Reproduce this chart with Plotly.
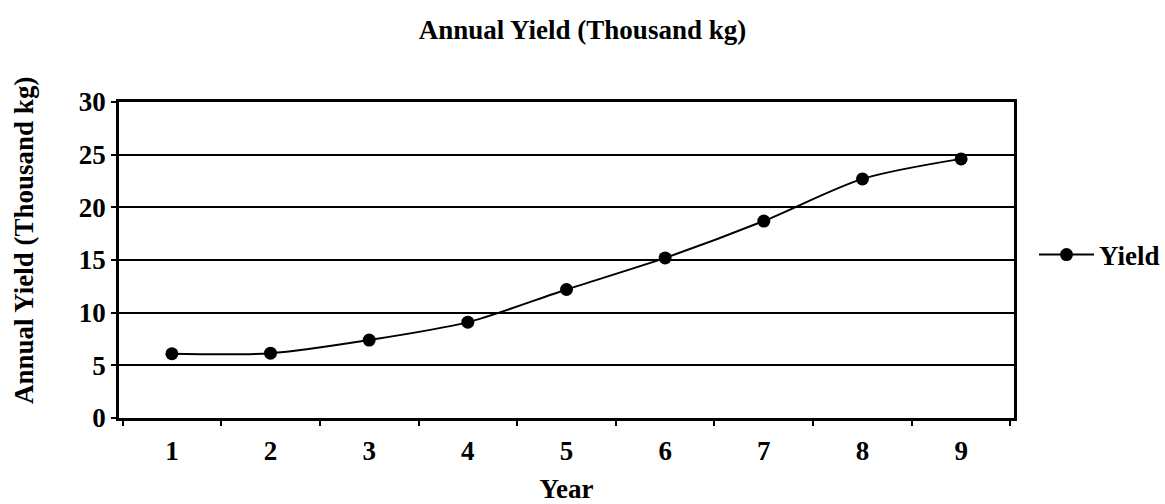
import plotly.graph_objects as go

years = ["1", "2", "3", "4", "5", "6", "7", "8", "9"]
yield_k = [6.1, 6.15, 7.4, 9.1, 12.2, 15.2, 18.7, 22.7, 24.6]
y_ticks = [0, 5, 10, 15, 20, 25, 30]

font_family = "Liberation Serif, Times New Roman, serif"
bold = dict(family=font_family, size=27, color="black", weight="bold")

fig = go.Figure()
fig.add_trace(go.Scatter(
    x=years, y=yield_k, name="Yield",
    mode="lines+markers",
    line=dict(color="black", width=2, shape="spline", smoothing=0.8),
    marker=dict(color="black", size=13),
))

fig.update_layout(
    width=1165, height=504,
    margin=dict(l=119, r=151, t=102, b=86, autoexpand=False),
    paper_bgcolor="white", plot_bgcolor="white",
    font=bold,
    title=dict(text="Annual Yield (Thousand kg)", x=0.5, xanchor="center",
               y=1 - 30 / 504, yanchor="middle", font=bold),
    showlegend=True,
    legend=dict(x=(1034 - 119) / 895, xanchor="left", y=(418 - 255) / 316, yanchor="middle",
                font=bold, bgcolor="rgba(0,0,0,0)", itemwidth=55),
)

fig.update_xaxes(
    type="category", tickson="boundaries", automargin=False,
    ticks="outside", ticklen=5, tickwidth=2, tickcolor="black",
    showline=True, linecolor="black", linewidth=2.5, mirror=True,
    showgrid=False,
    tickfont=bold, ticklabelstandoff=7,
    title=dict(text="Year", font=bold, standoff=20),
)
fig.update_yaxes(
    range=[0, 30], tickvals=y_ticks, automargin=False,
    ticks="outside", ticklen=5, tickwidth=2, tickcolor="black",
    showline=True, linecolor="black", linewidth=2.5, mirror=True,
    showgrid=True, gridcolor="black", gridwidth=2,
    zeroline=False,
    tickfont=bold,
)

# vertical axis caption placed to the left of the tick labels
fig.add_annotation(
    text="Annual Yield (Thousand kg)", textangle=-90,
    xref="paper", yref="paper",
    x=-(119 - 24) / 895, y=(418 - 241) / 316,
    xanchor="center", yanchor="middle",
    showarrow=False, font=bold,
)

fig.write_html("out.html")
